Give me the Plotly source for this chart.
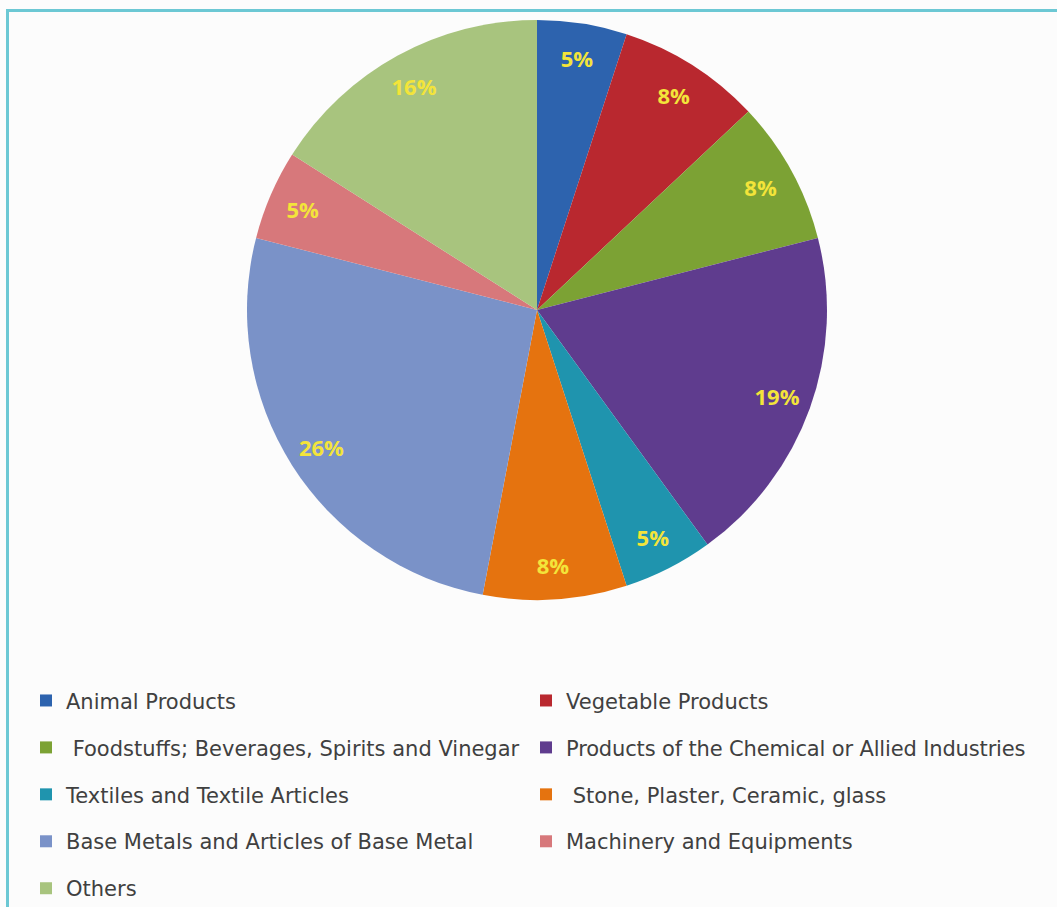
import plotly.graph_objects as go

categories = [
    "Animal Products",
    "Vegetable Products",
    " Foodstuffs; Beverages, Spirits and Vinegar",
    "Products of the Chemical or Allied Industries",
    "Textiles and Textile Articles",
    " Stone, Plaster, Ceramic, glass",
    "Base Metals and Articles of Base Metal",
    "Machinery and Equipments",
    "Others",
]
shares = [5, 8, 8, 19, 5, 8, 26, 5, 16]
colors = ["#2d63ae", "#b9282f", "#7ca234", "#5f3c8e", "#1f94ae",
          "#e5730f", "#7a92c8", "#d7787b", "#a8c47e"]

W, H = 1057, 907
cx, cy, R = 537, 310, 290

dom_x = [(cx - R) / W, (cx + R) / W]
dom_y = [1 - (cy + R) / H, 1 - (cy - R) / H]


def legend_label(text):
    # the longest label is tightened very slightly so it fits inside the legend box
    spacing = "letter-spacing:-0.15px;" if len(text) > 44 else ""
    return ('<span style="font-size:21px;baseline-shift:5px;' + spacing + '">'
            + text + "</span>")


legend_labels = [legend_label(c) for c in categories]

fig = go.Figure()
# main pie (slices + legend)
fig.add_trace(go.Pie(
    labels=legend_labels,
    values=shares,
    sort=False,
    direction="clockwise",
    rotation=0,
    marker=dict(colors=colors, line=dict(width=0)),
    textinfo="none",
    domain=dict(x=dom_x, y=dom_y),
    hoverinfo="percent",
))
# transparent ring carrying the percentage labels
fig.add_trace(go.Pie(
    labels=legend_labels,
    values=shares,
    sort=False,
    direction="clockwise",
    rotation=0,
    hole=0.76,
    marker=dict(colors=["rgba(0,0,0,0)"] * len(shares), line=dict(width=0)),
    texttemplate="%{percent:.0%}",
    textposition="inside",
    insidetextorientation="horizontal",
    textfont=dict(family="Open Sans", size=22, color="#f3e43a", weight="bold"),
    showlegend=False,
    domain=dict(x=dom_x, y=dom_y),
    hoverinfo="skip",
))

fig.add_shape(type="rect", xref="paper", yref="paper",
              x0=7.5 / W, x1=1.02, y0=-0.02, y1=1 - 10.5 / H,
              line=dict(color="#6cc8d4", width=3), layer="below")

fig.update_layout(
    width=W, height=H,
    margin=dict(l=0, r=0, t=0, b=0, autoexpand=False),
    paper_bgcolor="#fcfcfc",
    plot_bgcolor="#fcfcfc",
    font=dict(family="DejaVu Sans", color="#404040"),
    legend=dict(
        orientation="h",
        x=26 / W, xanchor="left",
        y=1 - 672 / H, yanchor="top",
        font=dict(family="DejaVu Sans", size=33.8, color="#404040"),
        entrywidth=455, entrywidthmode="pixels",
        bgcolor="rgba(0,0,0,0)",
        traceorder="normal",
        maxheight=1,
    ),
)

fig.write_html("out.html")
